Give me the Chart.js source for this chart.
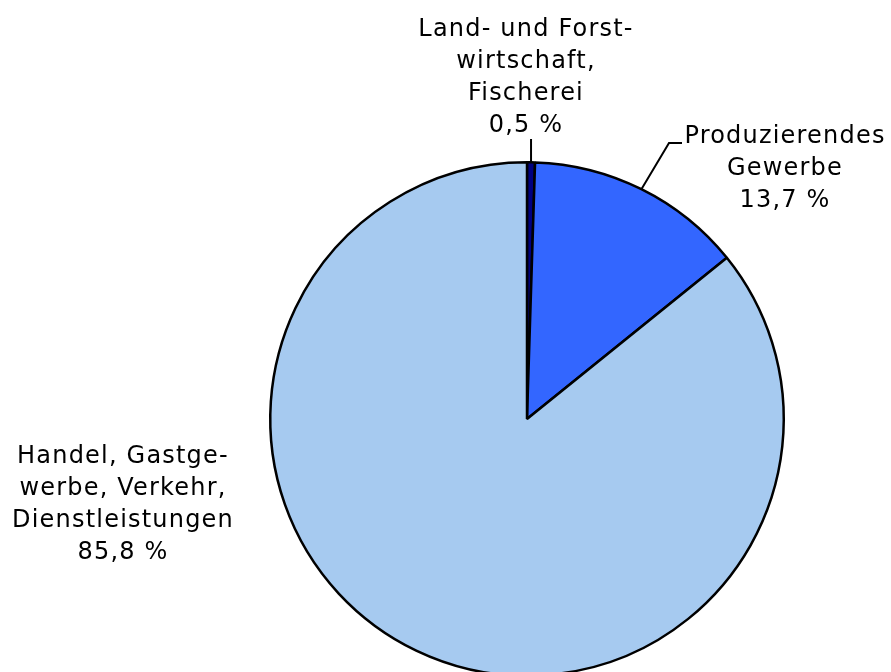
<!DOCTYPE html>
<html>
<head>
<meta charset="utf-8">
<script src="https://cdn.jsdelivr.net/npm/chart.js@4/dist/chart.umd.min.js"></script>
<style>
	html, body { margin: 0; padding: 0; background: #fff; overflow: hidden; }
</style>
</head>
<body>
<!-- canvas taller than the window so the pie runs off the bottom edge -->
<canvas id="pie" width="891" height="700"></canvas>
<script>
const categories = [
	'Land- und Forst-\nwirtschaft,\nFischerei',
	'Produzierendes\nGewerbe',
	'Handel, Gastge-\nwerbe, Verkehr,\nDienstleistungen',
];
const shares = [0.5, 13.7, 85.8];
const sliceColors = ['#000080', '#3366FF', '#A6CAF0'];

// where each label block is centred (x) and where its first baseline sits (y), plus leader bend
const labelSpots = [
	{ x: 526, y: 36, leader: [[null, 139]] },
	{ x: 785, y: 143, leader: [[669, 143], [682, 143]] },
	{ x: 123, y: 463, leader: null },
];

const fmt = v => v.toFixed(1).replace('.', ',') + ' %';

const labelPlugin = {
	id: 'sliceLabels',
	afterDraw(chart) {
		const ctx = chart.ctx;
		const arcs = chart.getDatasetMeta(0).data;
		ctx.save();
		ctx.font = '24px "DejaVu Sans", Verdana, sans-serif';
		ctx.letterSpacing = '1.2px';
		ctx.fillStyle = '#000';
		ctx.textAlign = 'center';
		ctx.textBaseline = 'alphabetic';
		ctx.strokeStyle = '#000';
		ctx.lineWidth = 2;
		arcs.forEach((arc, i) => {
			const spot = labelSpots[i];
			const lines = categories[i].split('\n').concat([fmt(shares[i])]);
			lines.forEach((t, li) => ctx.fillText(t, spot.x, spot.y + li * 32));
			if (spot.leader) {
				const p = arc.getProps(['x', 'y', 'startAngle', 'endAngle', 'outerRadius'], true);
				const mid = (p.startAngle + p.endAngle) / 2;
				const ex = p.x + Math.cos(mid) * p.outerRadius;
				const ey = p.y + Math.sin(mid) * p.outerRadius;
				ctx.beginPath();
				ctx.moveTo(ex, ey);
				spot.leader.forEach(pt => ctx.lineTo(pt[0] === null ? ex : pt[0], pt[1]));
				ctx.stroke();
			}
		});
		ctx.restore();
	}
};

new Chart(document.getElementById('pie').getContext('2d'), {
	type: 'pie',
	data: {
		labels: categories,
		datasets: [{
			data: shares,
			backgroundColor: sliceColors,
			borderColor: '#000',
			borderWidth: 2.5,
		}],
	},
	options: {
		responsive: false,
		animation: false,
		layout: { padding: { top: 161, bottom: 23, left: 269, right: 106 } },
		plugins: { legend: { display: false }, tooltip: { enabled: false } },
	},
	plugins: [labelPlugin],
});
</script>
</body>
</html>
